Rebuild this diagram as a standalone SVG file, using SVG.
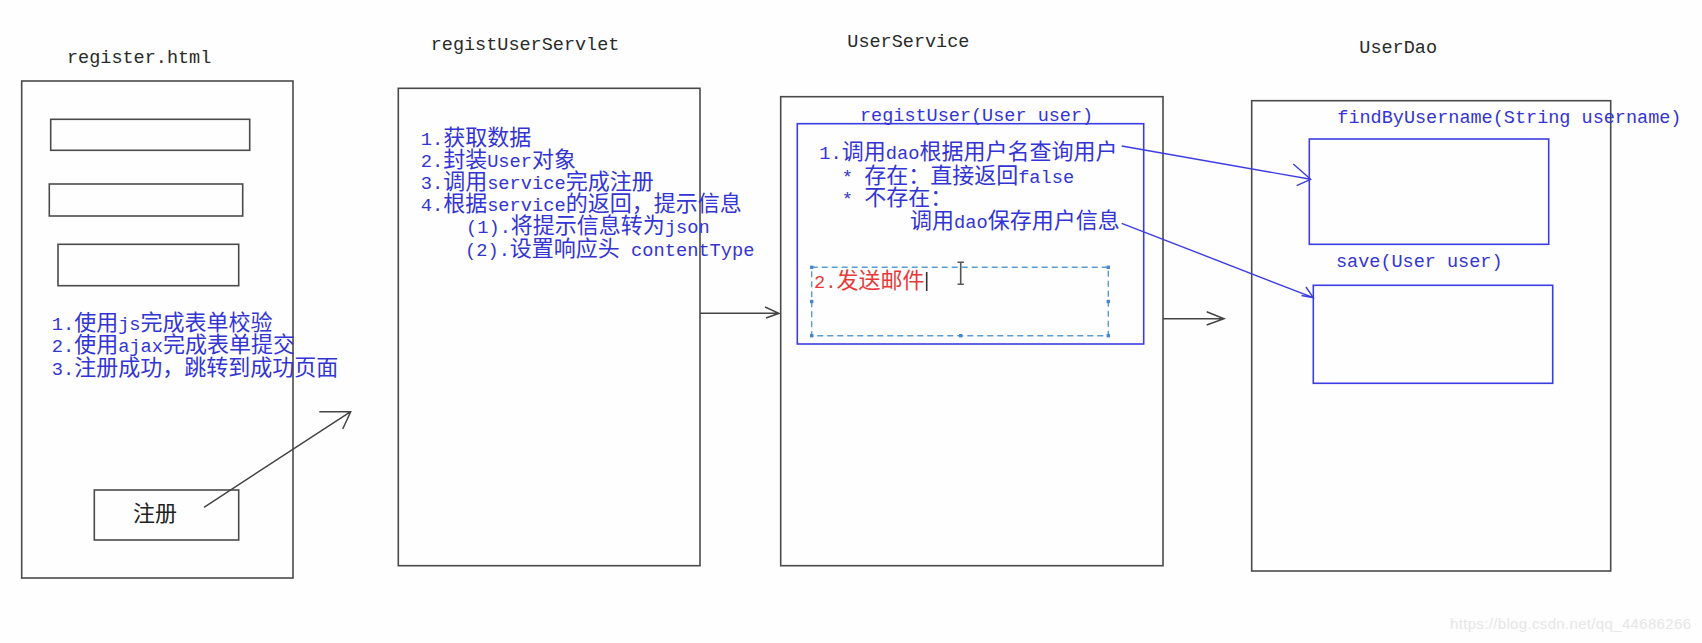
<svg xmlns="http://www.w3.org/2000/svg" width="1702" height="643" viewBox="0 0 1702 643">
<style>
.bg{fill:#fdfefd}
.box{fill:none;stroke:#4a4a4a;stroke-width:1.6}
.bbox{fill:none;stroke:#3c3ce4;stroke-width:1.6}
.title{font-family:"Liberation Mono","DejaVu Sans Mono",monospace;font-size:18.5px;fill:#2a2a2a}
.btitle{font-family:"Liberation Mono","DejaVu Sans Mono",monospace;font-size:18.5px;fill:#3434d4}
.t{font-family:"Liberation Mono","Noto Sans CJK SC",monospace;font-size:22px;fill:#3434d4}
.red{fill:#e8383a}
.blk{fill:#222}
.lat{font-size:18.7px}
.line{fill:none;stroke:#444;stroke-width:1.5}
.bline{fill:none;stroke:#3c3ce4;stroke-width:1.4}
.dash{fill:none;stroke:#5b9bd5;stroke-width:1.4;stroke-dasharray:6 4}
.hd{fill:#4a86d0}
.wm{font-family:"Liberation Sans",Arial,sans-serif;font-size:15px;fill:#e6e6e6}
</style>
<rect class="bg" x="0" y="0" width="1702" height="643"/>

<g id="register-html">
  <text class="title" x="67" y="63">register.html</text>
  <rect class="box" x="21.7" y="81" width="271.3" height="497"/>
  <rect class="box" x="50.7" y="119.3" width="199" height="31"/>
  <rect class="box" x="49.3" y="184" width="193.4" height="32"/>
  <rect class="box" x="58" y="244.3" width="180.7" height="41.4"/>
  <text class="t" x="51.7" y="329.5"><tspan class="lat">1.</tspan>使用<tspan class="lat">js</tspan>完成表单校验</text>
  <text class="t" x="51.7" y="352"><tspan class="lat">2.</tspan>使用<tspan class="lat">ajax</tspan>完成表单提交</text>
  <text class="t" x="51.7" y="375"><tspan class="lat">3.</tspan>注册成功，跳转到成功页面</text>
  <rect class="box" x="94.3" y="490" width="144.4" height="50"/>
  <text class="t blk" x="155" y="521" text-anchor="middle">注册</text>
</g>

<g id="regist-user-servlet">
  <text class="title" x="430.7" y="50">registUserServlet</text>
  <rect class="box" x="398.3" y="88.3" width="301.7" height="477.4"/>
  <text class="t" x="420.7" y="144.5"><tspan class="lat">1.</tspan>获取数据</text>
  <text class="t" x="420.7" y="167"><tspan class="lat">2.</tspan>封装<tspan class="lat">User</tspan>对象</text>
  <text class="t" x="420.7" y="189"><tspan class="lat">3.</tspan>调用<tspan class="lat">service</tspan>完成注册</text>
  <text class="t" x="420.7" y="211"><tspan class="lat">4.</tspan>根据<tspan class="lat">service</tspan>的返回，提示信息</text>
  <text class="t" x="466" y="233"><tspan class="lat">(1).</tspan>将提示信息转为<tspan class="lat">json</tspan></text>
  <text class="t" x="465" y="255.5"><tspan class="lat">(2).</tspan>设置响应头<tspan class="lat"> contentType</tspan></text>
</g>

<g id="user-service">
  <text class="title" x="847.3" y="47">UserService</text>
  <rect class="box" x="780.7" y="96.7" width="382.3" height="469"/>
  <rect class="bbox" x="797.3" y="123.7" width="346.4" height="220.3"/>
  <text class="btitle" x="860" y="121">registUser(User user)</text>
  <text class="t" x="819.3" y="159"><tspan class="lat">1.</tspan>调用<tspan class="lat">dao</tspan>根据用户名查询用户</text>
  <text class="t" x="841.7" y="183"><tspan class="lat">* </tspan>存在：直接返回<tspan class="lat">false</tspan></text>
  <text class="t" x="841.7" y="204.5"><tspan class="lat">* </tspan>不存在：</text>
  <text class="t" x="910" y="227.5">调用<tspan class="lat">dao</tspan>保存用户信息</text>
  <rect class="dash" x="811.7" y="267.3" width="296.6" height="68.4"/>
  <g class="hd">
    <rect x="810" y="265.6" width="3.4" height="3.4"/>
    <rect x="1106.6" y="265.6" width="3.4" height="3.4"/>
    <rect x="810" y="299.8" width="3.4" height="3.4"/>
    <rect x="1106.6" y="299.8" width="3.4" height="3.4"/>
    <rect x="810" y="334" width="3.4" height="3.4"/>
    <rect x="959" y="334" width="3.4" height="3.4"/>
    <rect x="1106.6" y="334" width="3.4" height="3.4"/>
  </g>
  <text class="t red" x="814" y="288"><tspan class="lat">2.</tspan>发送邮件</text>
  <line x1="926.7" y1="272" x2="926.7" y2="291" stroke="#333" stroke-width="1.6"/>
  <path d="M957.5 262.2h6.4M960.7 262.2v22M957.5 284.2h6.4" fill="none" stroke="#555" stroke-width="1.6"/>
</g>

<g id="user-dao">
  <text class="title" x="1359.3" y="53">UserDao</text>
  <rect class="box" x="1251.7" y="100.7" width="359" height="470.3"/>
  <text class="btitle" x="1337.3" y="123">findByUsername(String username)</text>
  <rect class="bbox" x="1309.3" y="139" width="239.4" height="105.3"/>
  <text class="btitle" x="1336" y="267">save(User user)</text>
  <rect class="bbox" x="1313.3" y="285.3" width="239.4" height="98"/>
</g>

<g id="connectors">
  <path class="line" d="M204 507.3L350.7 411.7M319.3 411.7L350.7 411.7L342.7 429"/>
  <path class="line" d="M700 313.3H779M765 307L779 313.3L766 318"/>
  <path class="line" d="M1163 318.7H1224M1206.7 311.7L1224 318.7L1206.7 325"/>
  <path class="bline" d="M1121.7 146L1310.7 179.3M1293.3 164L1310.7 179.3L1296.7 185.7"/>
  <path class="bline" d="M1121.7 223.3L1313.3 297.7M1301.5 295.5L1313.3 297.7L1306 287"/>
</g>

<text class="wm" x="1450" y="629" textLength="241">https://blog.csdn.net/qq_44686266</text>
</svg>
